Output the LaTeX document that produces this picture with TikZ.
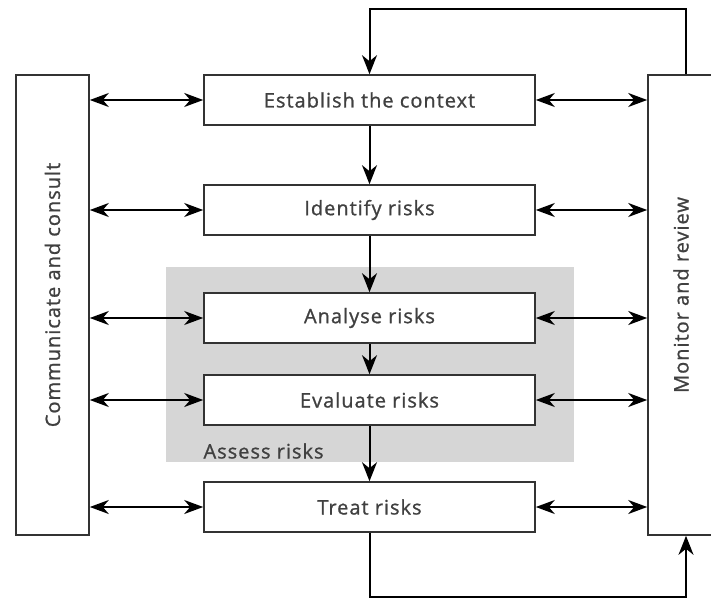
\documentclass[tikz,border=0pt]{standalone}
\usepackage{fontspec}
\setmainfont{Open Sans}[LetterSpace=5,FakeBold=1]
\usetikzlibrary{arrows.meta, positioning}
\tikzstyle{stage} = [
    rectangle,
    minimum width=331pt,
    minimum height=50pt,
    draw=black!80,
    line width=1.6pt,
    fill=white,
    text=black!75,
    font=\fontsize{20}{23}\selectfont
]
\tikzstyle{side} = [
    rectangle,
    minimum height=460pt,
    draw=black!80,
    line width=1.6pt,
    fill=white,
    text=black!75,
    font=\fontsize{20}{23}\selectfont
]
\tikzstyle{group} = [
    rectangle,
    minimum width=408pt,
    minimum height=195pt,
    fill=black!16
]
\tikzstyle{arrow} = [line width=2pt,-{Stealth[length=19pt,width=15pt,inset=6pt]}]
\tikzstyle{biarrow} = [line width=2pt,{Stealth[length=19pt,width=14pt,inset=6pt]}-{Stealth[length=19pt,width=14pt,inset=6pt]}]

\begin{document}
\begin{tikzpicture}[x=1pt,y=-1pt]
\useasboundingbox (0,0) rectangle (711,601);

\node (assess) [group] at (370,364.5) {};
\node (assesslabel) [anchor=west, text=black!75, font=\fontsize{20}{23}\selectfont] at (200,451) {Assess risks};

\node (establish) [stage] at (369.5,100) {Establish the context};
\node (identify) [stage] at (369.5,210) {Identify risks};
\node (analyse) [stage] at (369.5,318) {Analyse risks};
\node (evaluate) [stage] at (369.5,400) {Evaluate risks};
\node (treat) [stage] at (369.5,507) {Treat risks};

\node (communicate) [side, minimum width=73pt] at (52.5,305)
{\rotatebox{90}{\hspace{20pt}Communicate and consult}};
\node (monitor) [side, minimum width=66pt] at (681,305)
{\rotatebox{90}{\hspace{20pt}Monitor and review}};

\draw [arrow] (establish) -- (identify);
\draw [arrow] (identify) -- (analyse);
\draw [arrow] (analyse) -- (evaluate);
\draw [arrow] (evaluate) -- (treat);

\foreach \s in {establish, identify, analyse, evaluate, treat} {
    \draw [biarrow] (communicate.east |- \s) -- (\s.west);
    \draw [biarrow] (\s.east) -- (monitor.west |- \s);
}

\coordinate (loopup) at (686,9);
\coordinate (loopdown) at (686,597);
\draw [arrow] (monitor.north -| loopup) -- (loopup) -| (establish.north);
\draw [arrow] (treat.south) |- (loopdown) -- (monitor.south -| loopdown);

\end{tikzpicture}
\end{document}
